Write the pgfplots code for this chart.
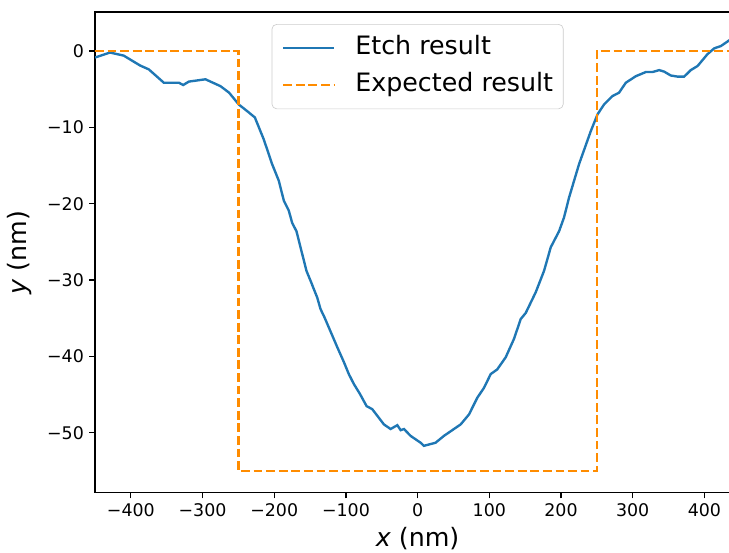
\documentclass[border=0pt]{standalone}
\usepackage{fontspec}
\setmainfont{DejaVu Sans}
\usepackage{pgfplots}
\pgfplotsset{compat=1.18}
\definecolor{mblue}{HTML}{1F77B4}
\definecolor{morange}{HTML}{FF8C00}
\begin{document}
\begin{tikzpicture}
\begin{axis}[
  name=main,
  scale only axis,
  width=407.8pt, height=303.9pt,
  xmin=-450, xmax=450, ymin=-57.86, ymax=5.11,
  axis line style={line width=0.8pt, black},
  tick align=outside, xtick pos=bottom, ytick pos=left,
  major tick length=3.5pt,
  tick style={line width=0.8pt, black},
  xtick={-400,-300,-200,-100,0,100,200,300,400},
  xticklabels={−400,−300,−200,−100,0,100,200,300,400},
  ytick={-50,-40,-30,-20,-10,0},
  yticklabels={−50,−40,−30,−20,−10,0},
  ticklabel style={font=\fontsize{11}{13}\selectfont},
  every axis x label/.style={at={(axis description cs:0.5,-0.1125)}, anchor=base, font=\fontsize{16}{19}\selectfont},
  every axis y label/.style={at={(axis description cs:-0.1062,0.5)}, rotate=90, anchor=base, font=\fontsize{16}{19}\selectfont},
  xlabel={{\itshape x} (nm)},
  ylabel={{\itshape y} (nm)},
  legend style={at={(axis description cs:0.5,0.975)}, anchor=north,
    draw=black!20, fill=white, fill opacity=0.8, text opacity=1,
    rounded corners=3pt, font=\fontsize{16}{19}\selectfont,
    inner xsep=6.4pt, inner ysep=7pt, row sep=7.4pt,
    nodes={inner sep=0pt, text height=12pt, text depth=4pt}},
  legend cell align=left,
  legend image code/.code={\draw[#1] (0pt,0pt) -- (32pt,0pt); \path (44.8pt,0pt);},
]
\addplot[mblue, line width=1.5pt] coordinates {
(-450,-0.85) (-429,-0.2) (-410,-0.6) (-387,-1.9) (-375,-2.4) (-354,-4.15)
(-333,-4.15) (-327,-4.45) (-319,-4.0) (-296,-3.7) (-275,-4.6) (-263,-5.45)
(-249.5,-7.0) (-238,-7.85) (-227,-8.7) (-214.5,-11.6) (-203,-14.8) (-193.6,-17.0)
(-186.6,-19.6) (-179.7,-20.9) (-175,-22.5) (-169,-23.6) (-155,-28.8) (-149.3,-30.1)
(-140,-32.3) (-135.4,-33.8) (-129.8,-34.9) (-112,-38.8) (-103,-40.7) (-96,-42.3)
(-89,-43.6) (-80.5,-44.9) (-71.2,-46.5) (-63.3,-46.9) (-47,-48.9) (-37.7,-49.5)
(-28.3,-49.0) (-23.7,-49.65) (-19,-49.5) (-9.8,-50.4) (4.2,-51.3) (8.8,-51.7)
(25,-51.3) (36.7,-50.4) (60,-48.9) (71.6,-47.6) (83.3,-45.4) (92.6,-44.1)
(102,-42.3) (111,-41.7) (122.9,-40.1) (134.4,-37.7) (143.8,-35.1) (150.8,-34.3)
(164.7,-31.6) (176.3,-28.8) (185.7,-25.7) (197.3,-23.6) (204.2,-21.8) (211.2,-19.2)
(218.2,-17.0) (225.2,-14.8) (241.5,-10.5) (250.9,-8.3) (260,-7.0) (271.8,-5.9)
(281,-5.45) (290.4,-4.15) (304.3,-3.3) (318.3,-2.75) (327.6,-2.75) (337,-2.5)
(344,-2.7) (353,-3.2) (362.6,-3.35) (371.8,-3.35) (381,-2.5) (390.5,-1.96)
(404.4,-0.4) (413.7,0.35) (423,0.65) (434.6,1.4) (450,2.25)
};
\addlegendentry{Etch result}
\addplot[morange, line width=1.5pt, dash pattern=on 5.55pt off 2.4pt] coordinates {
(-450,0) (-250,0) (-250,-55) (250,-55) (250,0) (450,0)
};
\addlegendentry{Expected result}
\end{axis}
\pgfresetboundingbox
\path ([xshift=-60.05pt, yshift=-37.5pt]main.south west) rectangle ([xshift=-7.1pt, yshift=7.6pt]main.north east);
\end{tikzpicture}
\end{document}
